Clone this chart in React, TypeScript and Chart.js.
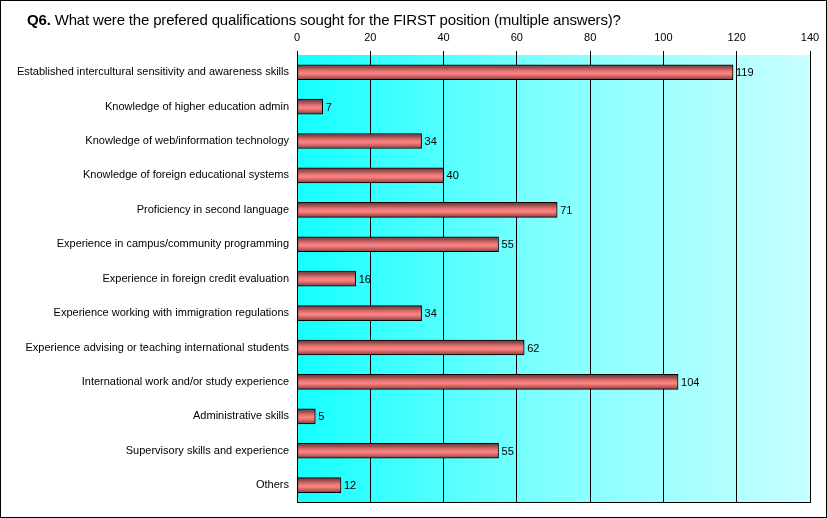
import React, { useEffect, useRef } from "react";
import { Chart, registerables } from "chart.js";

Chart.register(...registerables);

const categories = [
  "Established intercultural sensitivity and awareness skills",
  "Knowledge of higher education admin",
  "Knowledge of web/information technology",
  "Knowledge of foreign educational systems",
  "Proficiency in second language",
  "Experience in campus/community programming",
  "Experience in foreign credit evaluation",
  "Experience working with immigration regulations",
  "Experience advising or teaching international students",
  "International work and/or study experience",
  "Administrative skills",
  "Supervisory skills and experience",
  "Others",
];

const values = [119, 7, 34, 40, 71, 55, 16, 34, 62, 104, 5, 55, 12];

const axisMin = 0;
const axisMax = 140;
const axisStep = 20;

const FONT = "Arial, 'Liberation Sans', sans-serif";
const BAR_T = 15;

const bgPlugin = {
  id: "bgPlugin",
  beforeDraw(chart: any) {
    const { ctx, chartArea } = chart;
    if (!chartArea) return;
    const g = ctx.createLinearGradient(chartArea.left, 0, chartArea.right, 0);
    g.addColorStop(0, "rgb(20,255,255)");
    g.addColorStop(0.5, "rgb(130,255,255)");
    g.addColorStop(1, "rgb(200,255,255)");
    ctx.save();
    ctx.fillStyle = g;
    ctx.fillRect(chartArea.left, chartArea.top, chartArea.right - chartArea.left, chartArea.bottom - chartArea.top);
    ctx.restore();
  },
  afterDraw(chart: any) {
    const { ctx, chartArea } = chart;
    ctx.save();
    ctx.strokeStyle = "#000";
    ctx.lineWidth = 1;
    ctx.beginPath();
    const b = Math.round(chartArea.bottom) + 0.5;
    ctx.moveTo(chartArea.left, b);
    ctx.lineTo(chartArea.right + 1, b);
    ctx.stroke();
    ctx.restore();
  },
};

const labelPlugin = {
  id: "labelPlugin",
  afterDatasetsDraw(chart: any) {
    const { ctx } = chart;
    const meta = chart.getDatasetMeta(0);
    ctx.save();
    ctx.font = `11px ${FONT}`;
    ctx.fillStyle = "#000";
    ctx.textAlign = "left";
    ctx.textBaseline = "middle";
    meta.data.forEach((bar: any, i: number) => {
      ctx.fillText(String(values[i]), bar.x + 3, bar.y + 1);
    });
    ctx.restore();
  },
};

export default function App() {
  const ref = useRef<HTMLCanvasElement>(null);

  useEffect(() => {
    document.body.style.margin = "0";
    if (!ref.current) return;
    const chart = new Chart(ref.current, {
      type: "bar",
      data: {
        labels: categories,
        datasets: [
          {
            data: values,
            barThickness: BAR_T,
            borderColor: "#000",
            borderWidth: 1,
            borderSkipped: false,
            backgroundColor: (c: any) => {
              const ch = c.chart;
              const ys = ch.scales && ch.scales.y;
              if (!ys || c.type !== "data") return "#ff8080";
              const cy = ys.getPixelForValue(c.dataIndex);
              if (!Number.isFinite(cy)) return "#ff8080";
              const g = ch.ctx.createLinearGradient(0, cy - BAR_T / 2, 0, cy + BAR_T / 2);
              g.addColorStop(0, "#643838");
              g.addColorStop(0.2, "#a05050");
              g.addColorStop(0.42, "#e87474");
              g.addColorStop(0.6, "#ff8484");
              g.addColorStop(0.8, "#c86060");
              g.addColorStop(1, "#7a4040");
              return g;
            },
          },
        ],
      },
      options: {
        indexAxis: "y",
        responsive: false,
        animation: false,
        layout: { padding: { top: 0, right: 16, bottom: 12, left: 0 } },
        plugins: {
          legend: { display: false },
          tooltip: { enabled: false },
          title: { display: false },
        },
        scales: {
          x: {
            position: "top",
            min: axisMin,
            max: axisMax,
            ticks: {
              stepSize: axisStep,
              color: "#000",
              font: { family: FONT, size: 11 },
              padding: 6,
              maxRotation: 0,
            },
            grid: { color: "#000", lineWidth: 1, tickLength: 4, drawOnChartArea: true },
            border: { display: false },
            afterFit: (s: any) => {
              s.height = 54;
            },
          },
          y: {
            ticks: {
              color: "#000",
              font: { family: FONT, size: 11 },
              padding: 8,
              autoSkip: false,
            },
            grid: { display: false, drawTicks: false },
            border: { display: false },
            afterFit: (s: any) => {
              s.width = 296;
            },
          },
        },
      } as any,
      plugins: [bgPlugin, labelPlugin],
    });
    return () => chart.destroy();
  }, []);

  return (
    <div
      style={{
        position: "relative",
        width: 825,
        height: 516,
        border: "1px solid #000",
        background: "#fff",
      }}
    >
      <div
        style={{
          position: "absolute",
          left: 26,
          top: 10,
          font: `15px ${FONT}`,
          letterSpacing: "-0.17px",
          color: "#000",
          whiteSpace: "nowrap",
        }}
      >
        <b>Q6.</b> What were the prefered qualifications sought for the FIRST position (multiple answers)?
      </div>
      <canvas ref={ref} width={825} height={516} style={{ display: "block" }} />
    </div>
  );
}
